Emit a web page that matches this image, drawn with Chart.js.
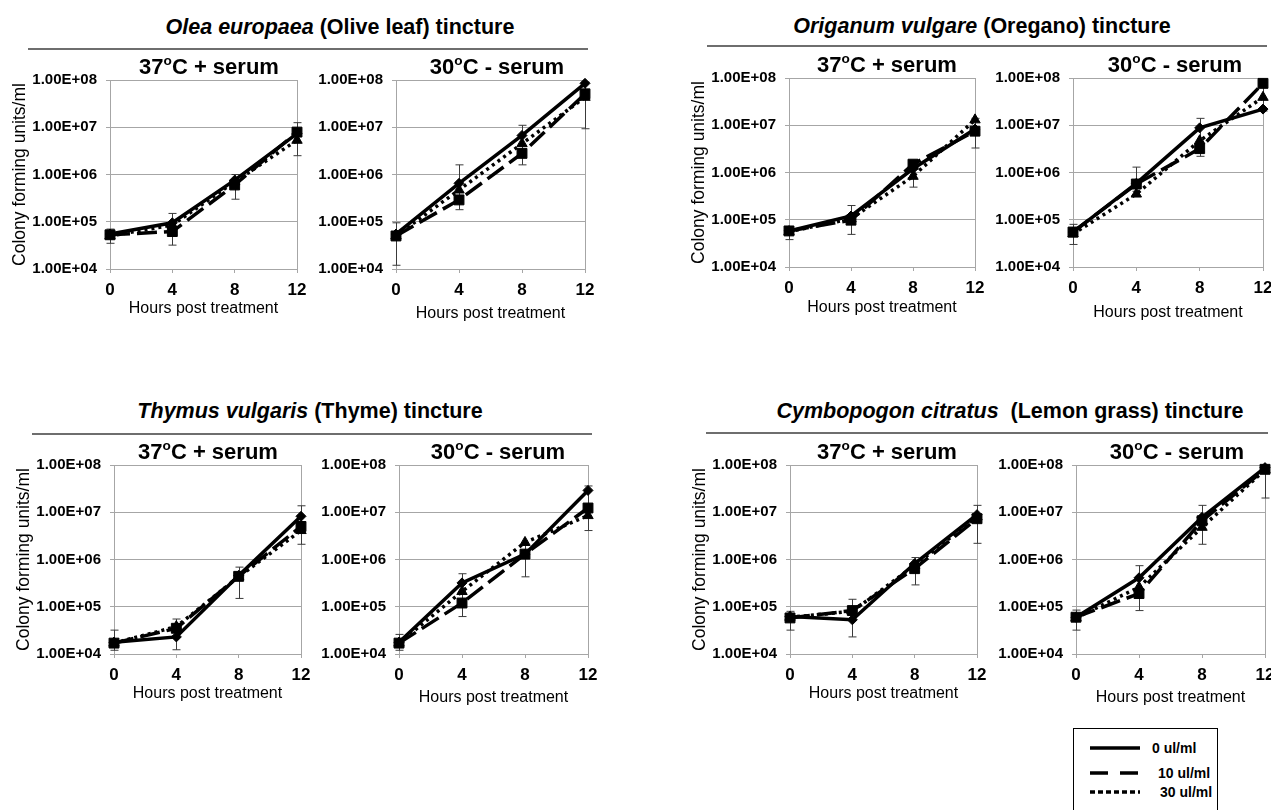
<!DOCTYPE html>
<html>
<head>
<meta charset="utf-8">
<script src="https://cdn.jsdelivr.net/npm/chart.js@4.4.0/dist/chart.umd.min.js"></script>
<style>
  html, body { margin: 0; padding: 0; background: #fff; overflow: hidden; }
  body { width: 1271px; height: 810px; position: relative; font-family: "Liberation Sans", Arial, sans-serif; color: #000; }
  canvas { position: absolute; }
  .header { position: absolute; font-weight: bold; font-size: 21.5px; line-height: 1; white-space: pre; transform: translate(-50%, -50%); }
  .rule { position: absolute; height: 0; border-top: 2px solid #6e6e6e; }
  .ptitle { position: absolute; font-weight: bold; font-size: 22px; line-height: 1; white-space: nowrap; transform: translate(-50%, -50%); }
  .ptitle sup { font-size: 0.62em; line-height: 0; position: relative; top: -0.05em; }
  #legend { position: absolute; left: 1073px; top: 728px; width: 145px; height: 100px; border: 1.5px solid #000; box-sizing: border-box; }
  #legend .row { position: absolute; left: 16px; height: 16px; font-weight: bold; font-size: 14px; }
  #legend svg { position: absolute; left: 0; top: 0; }
  #legend span { position: absolute; top: 0; white-space: nowrap; line-height: 16px; }
</style>
</head>
<body>
<script>
const hours = [0, 4, 8, 12];
const doses = ['0 ul/ml', '10 ul/ml', '30 ul/ml'];
const yTickValues = [1e4, 1e5, 1e6, 1e7, 1e8];
const yTickLabels = ['1.00E+04', '1.00E+05', '1.00E+06', '1.00E+07', '1.00E+08'];
const latinNames = ['Olea europaea', 'Origanum vulgare', 'Thymus vulgaris', 'Cymbopogon citratus'];
const commonNames = [' (Olive leaf) tincture', ' (Oregano) tincture', ' (Thyme) tincture', '  (Lemon grass) tincture'];
const condTemps = ['37', '30'];
const condRest = ['C + serum', 'C - serum'];

// each panel: rows are 0, 10, 30 ul/ml; err rows are lower and upper bar ends
const olive37 = [
  [5.5e4, 9.5e4, 7.6e5, 7.3e6],
  [5.3e4, 6.2e4, 6.0e5, 7.9e6],
  [5.0e4, 8.5e4, 7.0e5, 5.3e6]
];
const olive37Err = [[3.5e4, 3.2e4, 3.0e5, 2.5e6], [7.0e4, 1.5e5, 1.0e6, 1.25e7]];

const olive30 = [
  [5.5e4, 6.5e5, 6.7e6, 8.5e7],
  [5.0e4, 2.9e5, 2.8e6, 5.1e7],
  [5.0e4, 4.7e5, 4.5e6, 4.3e7]
];
const olive30Err = [[1.2e4, 1.8e5, 1.6e6, 9.3e6], [9.5e4, 1.6e6, 1.1e7, 9.0e7]];

const oregano37 = [
  [5.8e4, 1.2e5, 1.2e6, 8.3e6],
  [5.8e4, 9.8e4, 1.5e6, 7.5e6],
  [5.6e4, 1.05e5, 8.3e5, 1.3e7]
];
const oregano37Err = [[3.8e4, 4.9e4, 4.9e5, 3.3e6], [7.0e4, 2.0e5, 1.3e6, 1.4e7]];

const oregano30 = [
  [5.5e4, 5.9e5, 8.8e6, 2.2e7],
  [5.5e4, 5.7e5, 3.2e6, 7.7e7],
  [5.0e4, 3.5e5, 4.7e6, 3.9e7]
];
const oregano30Err = [[3.0e4, 4.0e5, 2.2e6, 2.0e7], [8.0e4, 1.3e6, 1.4e7, 8.0e7]];

const thyme37 = [
  [1.77e4, 2.3e4, 4.6e5, 8.2e6],
  [1.7e4, 3.5e4, 4.4e5, 5.0e6],
  [1.7e4, 3.8e4, 4.3e5, 4.1e6]
];
const thyme37Err = [[1.2e4, 1.23e4, 1.5e5, 2.1e6], [3.2e4, 5.5e4, 6.9e5, 1.37e7]];

const thyme30 = [
  [1.77e4, 3.2e5, 1.3e6, 2.9e7],
  [1.7e4, 1.2e5, 1.3e6, 1.23e7],
  [1.7e4, 2.1e5, 2.3e6, 8.5e6]
];
const thyme30Err = [[1.2e4, 6.2e4, 4.3e5, 4.1e6], [2.6e4, 5.0e5, 2.0e6, 3.6e7]];

const lemon37 = [
  [6.2e4, 5.3e4, 8.2e5, 8.9e6],
  [5.8e4, 8.3e4, 6.4e5, 7.3e6],
  [6.0e4, 8.0e4, 7.5e5, 8.0e6]
];
const lemon37Err = [[3.2e4, 2.3e4, 2.9e5, 2.2e6], [8.0e4, 1.44e5, 1.1e6, 1.4e7]];

const lemon30 = [
  [6.0e4, 4.1e5, 7.8e6, 8.8e7],
  [6.0e4, 1.9e5, 6.6e6, 8.1e7],
  [5.8e4, 2.6e5, 4.8e6, 7.9e7]
];
const lemon30Err = [[3.2e4, 8.3e4, 2.1e6, 2.0e7], [8.5e4, 7.4e5, 1.4e7, 9.0e7]];

// layout: plot box [left, top, right, bottom], title centre, gap to x title
const panels = [
  { data: olive37, err: olive37Err, cond: 0, box: [110, 80, 297, 269], title: [209, 67], gap: 39 },
  { data: olive30, err: olive30Err, cond: 1, box: [396, 80, 585, 269], title: [497, 67], gap: 44 },
  { data: oregano37, err: oregano37Err, cond: 0, box: [789, 78, 975, 267], title: [887, 65], gap: 40 },
  { data: oregano30, err: oregano30Err, cond: 1, box: [1073, 78, 1263, 267], title: [1175, 65], gap: 45 },
  { data: thyme37, err: thyme37Err, cond: 0, box: [114, 465, 301, 654], title: [208, 452], gap: 39 },
  { data: thyme30, err: thyme30Err, cond: 1, box: [399, 465, 588, 654], title: [498, 452], gap: 43 },
  { data: lemon37, err: lemon37Err, cond: 0, box: [790, 465, 977, 654], title: [887, 452], gap: 39 },
  { data: lemon30, err: lemon30Err, cond: 1, box: [1076, 465, 1265, 654], title: [1177, 452], gap: 43 }
];
const headers = [
  { at: [340, 28], rule: [28, 48, 588] },
  { at: [982, 27], rule: [707, 45, 1267] },
  { at: [310, 412], rule: [32, 433, 592] },
  { at: [1010, 412], rule: [706, 432, 1268] }
];

const doseStyle = [
  { dash: [], point: 'rectRot', radius: 5, order: 2 },
  { dash: [20, 7], point: 'rect', radius: 7, order: 1 },
  { dash: [3, 4], point: 'triangle', radius: 6, order: 3 }
];

const errorBars = {
  id: 'errorBars',
  beforeDatasetsDraw(chart, args, opts) {
    const { ctx, scales: { x, y } } = chart;
    const lo = opts.lo, hi = opts.hi;
    ctx.save();
    ctx.strokeStyle = '#3a3a3a';
    ctx.lineWidth = 1;
    hours.forEach((h, i) => {
      const px = Math.round(x.getPixelForValue(h)) + 0.5;
      const y1 = y.getPixelForValue(lo[i]);
      const y2 = y.getPixelForValue(hi[i]);
      ctx.beginPath();
      ctx.moveTo(px, y1); ctx.lineTo(px, y2);
      ctx.moveTo(px - 4, y1); ctx.lineTo(px + 4, y1);
      ctx.moveTo(px - 4, y2); ctx.lineTo(px + 4, y2);
      ctx.stroke();
    });
    ctx.restore();
  }
};

const FONT = '"Liberation Sans", Arial, sans-serif';

function makePanel(p) {
  const [l, t, r, b] = p.box;
  const withTitle = p.cond === 0;
  const yW = withTitle ? 102 : 80;
  // room for the half-height of the top tick label and the half-width of "12"
  const padTop = 22, padRight = 22;
  const xH = p.gap + 10;
  const canvas = document.createElement('canvas');
  canvas.width = yW + (r - l) + padRight;
  canvas.height = padTop + (b - t) + xH;
  canvas.style.left = (l - yW) + 'px';
  canvas.style.top = (t - padTop) + 'px';
  document.body.appendChild(canvas);

  const datasets = p.data.map((vals, k) => ({
    label: doses[k],
    data: hours.map((h, i) => ({ x: h, y: vals[i] })),
    borderColor: '#000',
    backgroundColor: '#000',
    borderWidth: 3.5,
    borderDash: doseStyle[k].dash,
    pointStyle: doseStyle[k].point,
    pointRadius: doseStyle[k].radius,
    pointBorderWidth: 1,
    order: doseStyle[k].order,
    clip: false,
    tension: 0
  }));

  new Chart(canvas, {
    type: 'line',
    data: { datasets },
    plugins: [errorBars],
    options: {
      responsive: false,
      animation: false,
      devicePixelRatio: 1,
      layout: { autoPadding: false, padding: { top: padTop, right: padRight, left: 0, bottom: 0 } },
      plugins: {
        legend: { display: false },
        tooltip: { enabled: false },
        errorBars: { lo: p.err[0], hi: p.err[1] }
      },
      scales: {
        x: {
          type: 'linear',
          min: 0, max: 12,
          afterBuildTicks: s => { s.ticks = hours.map(v => ({ value: v })); },
          afterFit: s => { s.height = xH; },
          grid: {
            color: ctx => ctx.tick && ctx.tick.value === 12 ? '#a6a6a6' : 'rgba(0,0,0,0)',
            tickColor: '#a6a6a6',
            tickLength: 4,
            lineWidth: 1
          },
          border: { color: '#a6a6a6' },
          ticks: { color: '#000', padding: 7, font: { family: FONT, size: 17, weight: 'bold' }, maxRotation: 0 },
          title: { display: true, text: 'Hours post treatment', color: '#000', padding: { top: 0, bottom: 0 }, font: { family: FONT, size: 16 } }
        },
        y: {
          type: 'logarithmic',
          min: 1e4, max: 1e8,
          afterBuildTicks: s => { s.ticks = yTickValues.map(v => ({ value: v })); },
          afterFit: s => { s.width = yW; },
          grid: { color: '#a6a6a6', tickColor: '#a6a6a6', tickLength: 4, lineWidth: 1 },
          border: { color: '#a6a6a6' },
          ticks: {
            color: '#000', padding: 9,
            font: { family: FONT, size: 15, weight: 'bold' },
            callback: (v, i) => yTickLabels[i]
          },
          title: {
            display: withTitle, text: 'Colony forming units/ml', color: '#000',
            padding: { top: 2, bottom: 0 }, font: { family: FONT, size: 17.5 }
          }
        }
      }
    }
  });

  const title = document.createElement('div');
  title.className = 'ptitle';
  title.style.left = p.title[0] + 'px';
  title.style.top = p.title[1] + 'px';
  title.innerHTML = condTemps[p.cond] + '<sup>o</sup>' + condRest[p.cond];
  document.body.appendChild(title);
}

headers.forEach((h, i) => {
  const d = document.createElement('div');
  d.className = 'header';
  d.style.left = h.at[0] + 'px';
  d.style.top = h.at[1] + 'px';
  const it = document.createElement('i');
  it.textContent = latinNames[i];
  d.appendChild(it);
  d.appendChild(document.createTextNode(commonNames[i]));
  document.body.appendChild(d);
  const line = document.createElement('div');
  line.className = 'rule';
  line.style.left = h.rule[0] + 'px';
  line.style.top = h.rule[1] + 'px';
  line.style.width = (h.rule[2] - h.rule[0]) + 'px';
  document.body.appendChild(line);
});

panels.forEach(makePanel);

// legend box
const legend = document.createElement('div');
legend.id = 'legend';
const legendDash = ['', '18 12', '5 3'];
const legendTops = [11, 36, 55];
const legendTextLeft = [62, 68, 70];
doses.forEach((d, k) => {
  const row = document.createElement('div');
  row.className = 'row';
  row.style.top = legendTops[k] + 'px';
  row.innerHTML = '<svg width="52" height="16"><line x1="0" y1="8" x2="50" y2="8" stroke="#000" stroke-width="3.5" stroke-dasharray="' + legendDash[k] + '"/></svg><span style="left:' + legendTextLeft[k] + 'px">' + d + '</span>';
  legend.appendChild(row);
});
document.body.appendChild(legend);
</script>
</body>
</html>
